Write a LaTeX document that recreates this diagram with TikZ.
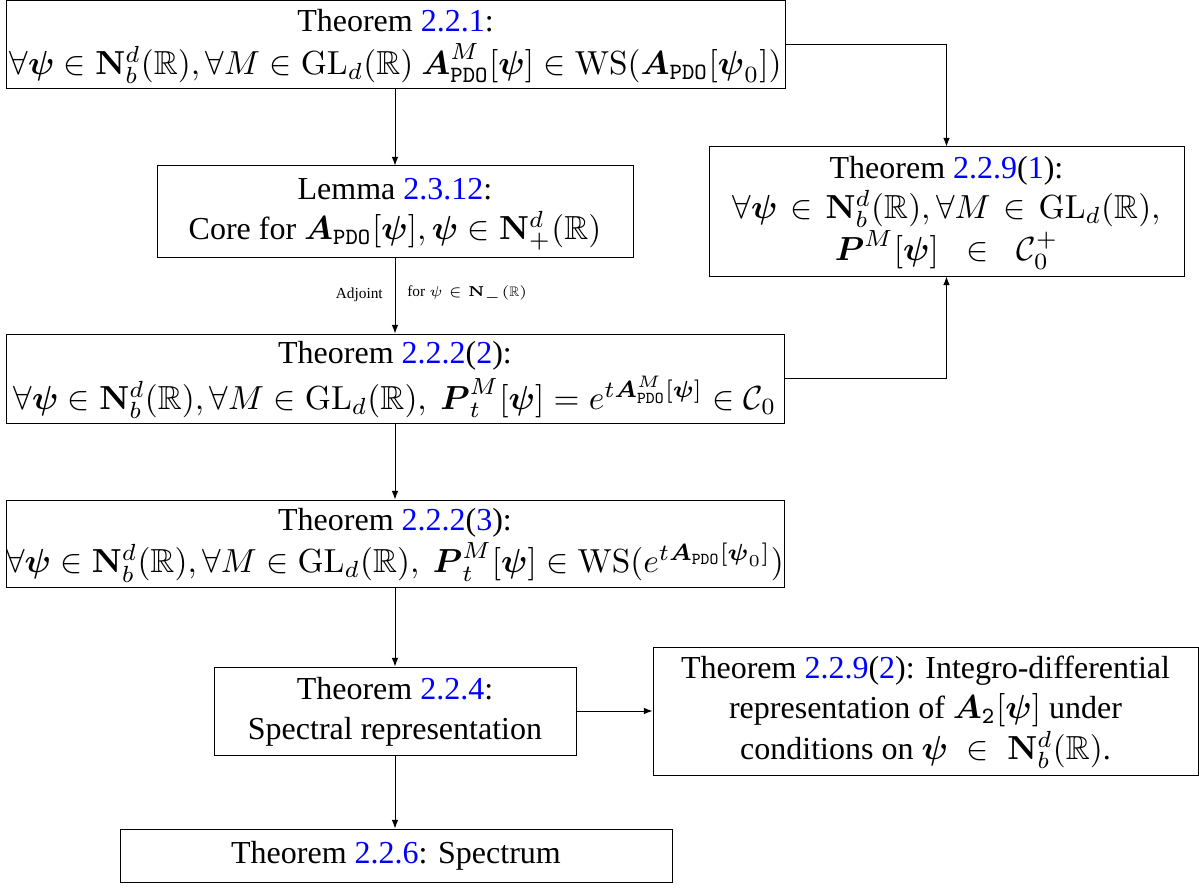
\documentclass[tikz,border=0pt]{standalone}
\usepackage{amsmath,amssymb}
\usepackage[no-math]{fontspec}
\setmainfont{Liberation Serif}[Scale=0.96]
\usetikzlibrary{arrows.meta}
\newcommand{\bpsi}{\boldsymbol{\psi}}
\newcommand{\bA}{\boldsymbol{A}}
\newcommand{\bP}{\boldsymbol{P}}
\newcommand{\NN}{\mathbf{N}}
\newcommand{\RR}{\mathbb{R}}
\newcommand{\GL}{\mathrm{GL}}
\newcommand{\WS}{\mathrm{WS}}
\newcommand{\pdo}{\mathtt{PDO}}
\newcommand{\rf}[1]{\textcolor{blue}{#1}}
\newcommand{\bx}[1]{\scalebox{2.5}{\fontsize{10}{12}\selectfont\begin{tabular}{@{}c@{}}#1\end{tabular}}}
\newcommand{\sm}[1]{\scalebox{2.5}{\fontsize{4.8}{6}\selectfont #1}}
\begin{document}
\begin{tikzpicture}[x=0.75pt,y=-0.75pt,
  box/.style={draw=black, line width=0.75pt, inner sep=0pt, align=center},
  sz/.style 2 args={minimum width=#1*0.75pt, minimum height=#2*0.75pt},
  arr/.style={draw=black, line width=0.75pt, -{Latex[length=6.5pt,width=5pt]}},
  lbl/.style={inner sep=0pt}]
\useasboundingbox (0,0) rectangle (1199,888);

\node[box, sz={779}{88}] (b1) at (395.5,45)
  {\bx{Theorem \rf{2.2.1}:\\
   $\forall\bpsi\in\NN^d_b(\RR),\forall M\in\GL_d(\RR)\ \bA^M_{\pdo}[\bpsi]\in\WS(\bA_{\pdo}[\bpsi_0])$}};

\node[box, sz={476}{91}] (b2) at (395,211.5)
  {\bx{Lemma \rf{2.3.12}:\\
   Core for $\bA_{\pdo}[\bpsi],\bpsi\in\NN^d_+(\RR)$}};

\node[box, sz={475}{129}] (b3) at (946.5,211.5)
  {\bx{Theorem \rf{2.2.9}(\rf{1}):\\
   $\forall\bpsi\mskip2mu\in\mskip2mu\NN^d_b(\RR),\forall M\mskip2mu\in\mskip2mu\GL_d(\RR),$\\
   $\bP^M[\bpsi]\;\;\in\;\;\mathcal{C}_0^+$}};

\node[box, sz={778}{89}] (b4) at (395,378.5)
  {\bx{Theorem \rf{2.2.2}(\rf{2}):\\
   $\forall\bpsi\in\NN^d_b(\RR),\forall M\in\GL_d(\RR),\ \bP^M_t[\bpsi]=e^{t\bA^M_{\pdo}[\bpsi]}\in\mathcal{C}_0$}};

\node[box, sz={778}{87}] (b5) at (395,543.5)
  {\bx{Theorem \rf{2.2.2}(\rf{3}):\\
   $\forall\bpsi\in\NN^d_b(\RR),\forall M\in\GL_d(\RR),\ \bP^M_t[\bpsi]\in\WS(e^{t\bA_{\pdo}[\bpsi_0]})$}};

\node[box, sz={362}{88}] (b6) at (395,711)
  {\bx{Theorem \rf{2.2.4}:\\ Spectral representation}};

\node[box, sz={545}{128}] (b7) at (925.5,711)
  {\bx{Theorem \rf{2.2.9}(\rf{2}):  Integro-differential\\
   representation of $\bA_{\mathtt{2}}[\bpsi]$ under\\
   conditions on $\bpsi\;\in\;\NN^d_b(\RR)$.}};

\node[box, sz={552}{53}] (b8) at (396,855.5)
  {\bx{Theorem \rf{2.2.6}:  Spectrum}};

\node[lbl, anchor=east] (l1) at (383,295) {\sm{Adjoint}};
\node[lbl, anchor=west] (l2) at (407,295) {\sm{for \scalebox{0.86}{$\psi\in\NN_{-}(\RR)$}}};

\draw[arr] (b1.south -| b2.north) -- (b2.north);
\draw[arr] (b1.east) -| (b3.north);
\draw[arr] (b2.south) -- (b4.north);
\draw[arr] (b4.east) -| (b3.south);
\draw[arr] (b4.south) -- (b5.north);
\draw[arr] (b5.south) -- (b6.north);
\draw[arr] (b6.east) -- (b7.west);
\draw[arr] (b6.south) -- (b6.south |- b8.north);
\end{tikzpicture}
\end{document}
